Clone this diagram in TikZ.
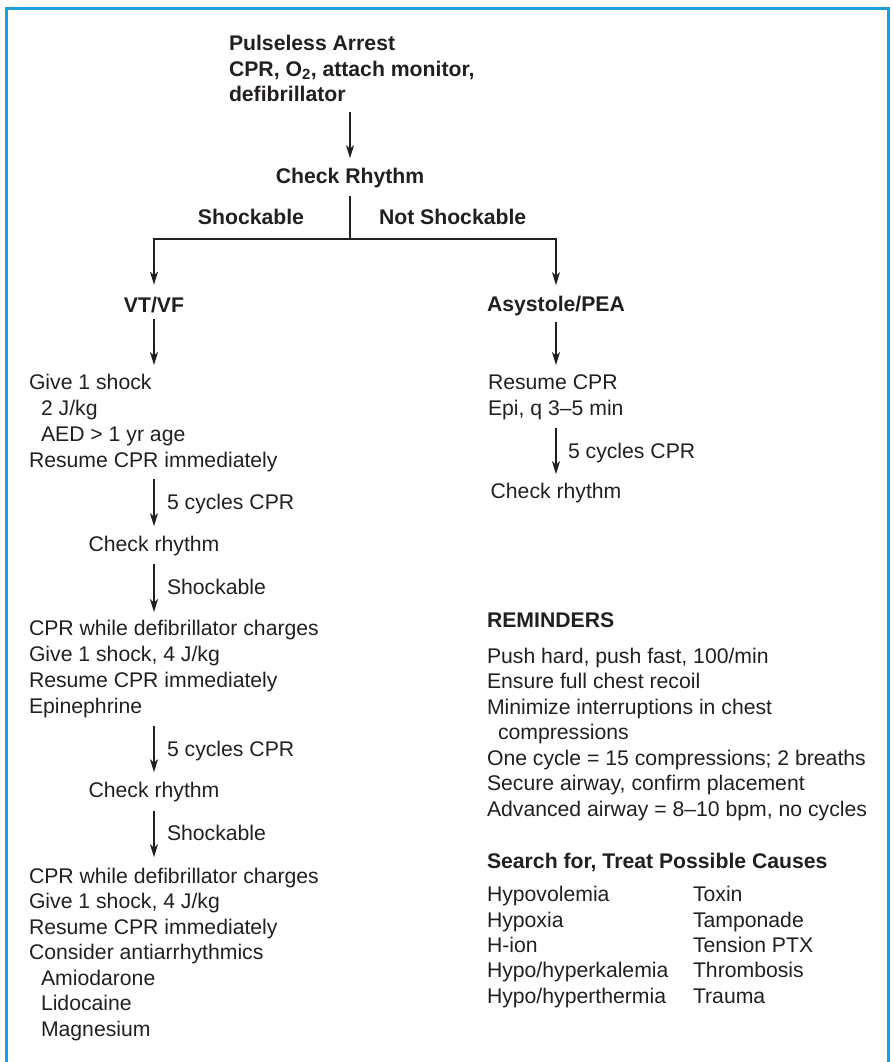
\documentclass[tikz,border=0pt]{standalone}
\usepackage{fontspec}
\setmainfont{Liberation Sans}
\usetikzlibrary{arrows.meta}
\definecolor{ink}{RGB}{35,31,32}
\definecolor{frameblue}{RGB}{30,160,218}
\begin{document}
% multi-line nodes are placed by the baseline of their last line
\begin{tikzpicture}[x=1pt,y=-1pt,
  txt/.style={inner sep=0pt, outer sep=0pt, anchor=base west, align=left, text=ink,
    font=\fontsize{21.2}{25.7}\selectfont},
  bold/.style={txt, font=\fontsize{21.2}{25.7}\selectfont\bfseries},
  link/.style={draw=ink, line width=1.4pt},
  flow/.style={link, -{Stealth[length=13pt,width=8pt,inset=3.5pt]}},
]
\useasboundingbox (0,0) rectangle (891,1062);
% open-bottomed frame
\draw[frameblue, line width=2.6pt] (6.5,1062) -- (6.5,8.5) -- (888.5,8.5) -- (888.5,1062);

% top of the algorithm
\node[bold, font=\fontsize{21.2}{25.5}\selectfont\bfseries] (start) at (229,102) {Pulseless Arrest\\CPR, O\textsubscript{2}, attach monitor,\\defibrillator};
\node[bold, anchor=base] (check) at (350,183) {Check Rhythm};
\draw[flow, shorten <=10pt, shorten >=9.5pt] (start.south -| check.north) -- (check.north);

\node[bold, anchor=base east] (lshock) at (304,224) {Shockable};
\node[bold] (lnot) at (379,224) {Not Shockable};
\coordinate (split) at (350,239);

\node[bold, anchor=base] (vtvf) at (154,312) {VT/VF};
\node[bold, anchor=base] (asys) at (556,311) {Asystole/PEA};

\draw[link, shorten <=8.5pt] (check.south) -- (split);
\draw[flow, shorten >=12pt] (split) -| (vtvf.north);
\draw[flow, shorten >=10.5pt] (split) -| (asys.north);

% shockable branch
\node[txt] (shock1) at (29,467) {Give 1 shock\\\hspace*{12pt}2 J/kg\\\hspace*{12pt}AED > 1 yr age\\Resume CPR immediately};
\draw[flow, shorten <=7pt, shorten >=9.5pt] (vtvf.south) -- (vtvf.south |- shock1.north);

\node[txt, anchor=base] (chk1) at (154,551) {Check rhythm};
\node[txt] (cyc1) at (167,509) {5 cycles CPR};
\draw[flow, shorten <=7.5pt, shorten >=9.5pt] (chk1.north |- shock1.south) -- (chk1.north);

\node[txt] (shock2) at (29,713) {CPR while defibrillator charges\\Give 1 shock, 4 J/kg\\Resume CPR immediately\\Epinephrine};
\node[txt] (sh1) at (167,594) {Shockable};
\draw[flow, shorten <=8.5pt, shorten >=8.5pt] (chk1.south) -- (chk1.south |- shock2.north);

\node[txt, anchor=base] (chk2) at (154,797) {Check rhythm};
\node[txt] (cyc2) at (167,756) {5 cycles CPR};
\draw[flow, shorten <=8.5pt, shorten >=9.5pt] (chk2.north |- shock2.south) -- (chk2.north);

\node[txt, font=\fontsize{21.2}{25.5}\selectfont] (shock3) at (29,1036) {CPR while defibrillator charges\\Give 1 shock, 4 J/kg\\Resume CPR immediately\\Consider antiarrhythmics\\\hspace*{12pt}Amiodarone\\\hspace*{12pt}Lidocaine\\\hspace*{12pt}Magnesium};
\node[txt] (sh2) at (167,840) {Shockable};
\draw[flow, shorten <=9.5pt, shorten >=10.5pt] (chk2.south) -- (chk2.south |- shock3.north);

% non-shockable branch
\node[txt] (resume) at (488,415) {Resume CPR\\Epi, q 3–5 min};
\draw[flow, shorten <=7pt, shorten >=9.5pt] (asys.south) -- (asys.south |- resume.north);

\node[txt, anchor=base] (chk3) at (556,498) {Check rhythm};
\node[txt] (cyc3) at (568,458) {5 cycles CPR};
\draw[flow, shorten <=8.5pt, shorten >=8.5pt] (chk3.north |- resume.south) -- (chk3.north);

% reminders
\node[bold] (remhead) at (487,627) {REMINDERS};
\node[txt, font=\fontsize{21.2}{25.5}\selectfont] (rem) at (487,816) {Push hard, push fast, 100/min\\Ensure full chest recoil\\Minimize interruptions in chest\\\hspace*{11pt}compressions\\One cycle = 15 compressions; 2 breaths\\Secure airway, confirm placement\\Advanced airway = 8–10 bpm, no cycles};

% possible causes
\node[bold] (causehead) at (487,868) {Search for, Treat Possible Causes};
\node[txt, font=\fontsize{21.2}{25.3}\selectfont] (causesH) at (487,1003) {Hypovolemia\\Hypoxia\\H-ion\\Hypo/hyperkalemia\\Hypo/hyperthermia};
\node[txt, font=\fontsize{21.2}{25.3}\selectfont] (causesT) at (693,1003) {Toxin\\Tamponade\\Tension PTX\\Thrombosis\\Trauma};
\end{tikzpicture}
\end{document}
